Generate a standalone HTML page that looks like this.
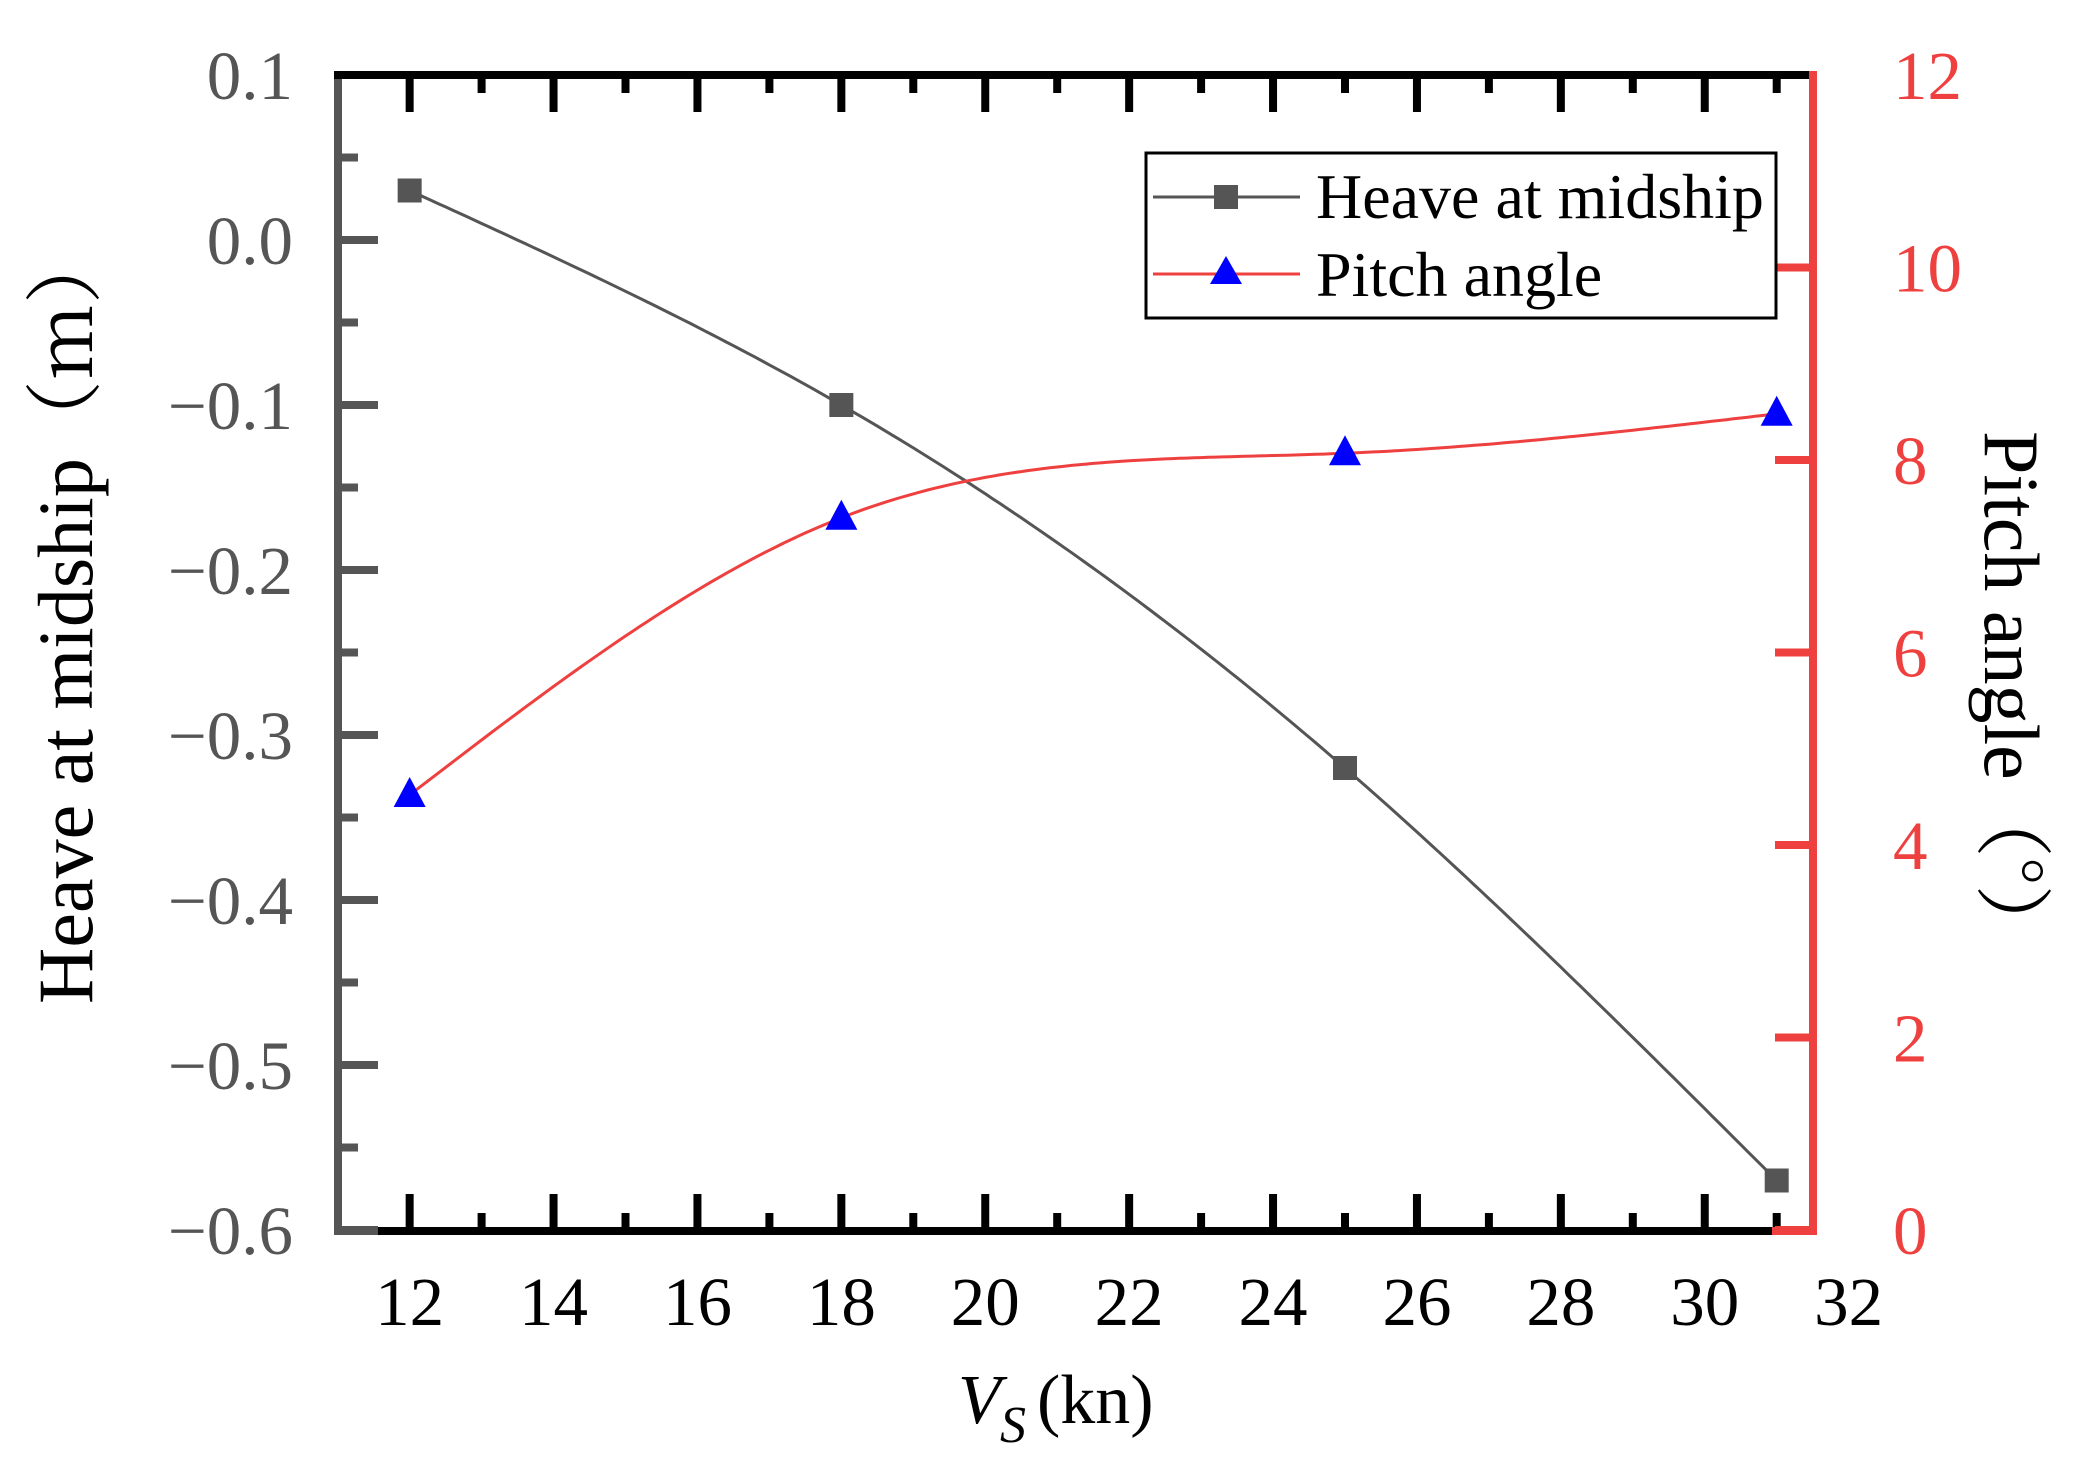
<!DOCTYPE html>
<html><head><meta charset="utf-8"><style>
html,body{margin:0;padding:0;background:#fff}
svg{display:block}
text{font-family:"Liberation Serif","Times New Roman",Times,serif}
.cjk{font-family:"Noto Serif CJK SC","Noto Sans CJK SC",serif}
</style></head><body>
<svg id="s" width="2079" height="1466" viewBox="0 0 2079 1466" xmlns="http://www.w3.org/2000/svg" font-family="Liberation Serif, Times New Roman, serif">
<g id="ticks"></g>
<path id="heave" fill="none" stroke="#555" stroke-width="3"/>
<path id="pitch" fill="none" stroke="#ef4040" stroke-width="3"/>
<g id="marks"></g>
<line x1="334" y1="75" x2="1813" y2="75" stroke="#000" stroke-width="8"/>
<line x1="334" y1="1231" x2="1813" y2="1231" stroke="#000" stroke-width="8"/>
<line x1="338" y1="79" x2="338" y2="1235" stroke="#555" stroke-width="8"/>
<line x1="1813" y1="71" x2="1813" y2="1235" stroke="#ef4040" stroke-width="8"/>
<line x1="1772" y1="1231" x2="1813" y2="1231" stroke="#ef4040" stroke-width="8"/>
<line x1="334" y1="1231" x2="378" y2="1231" stroke="#555" stroke-width="8"/>
<g id="labels"></g>
<rect x="1146" y="153" width="630" height="165" fill="#fff" stroke="#000" stroke-width="3"/>
<line x1="1153" y1="197" x2="1300" y2="197" stroke="#555" stroke-width="3"/>
<rect x="1214" y="185" width="24" height="24" fill="#555"/>
<line x1="1153" y1="274" x2="1300" y2="274" stroke="#ef4040" stroke-width="3"/>
<polygon points="1226,256 1242,284 1210,284" fill="#0000ff"/>
<text x="1316" y="218" font-size="64">Heave at midship</text>
<text x="1316" y="296" font-size="64">Pitch angle</text>
<text transform="translate(92,1004) rotate(-90)" font-size="78">Heave at midship<tspan class="cjk">（m）</tspan></text>
<text transform="translate(1985,431) rotate(90)" font-size="78">Pitch angle<tspan class="cjk">（°）</tspan></text>
<text x="958" y="1423" font-size="70" font-style="italic">V</text>
<text x="1000" y="1442" font-size="52" font-style="italic">S</text>
<text x="1037" y="1423" font-size="70">(kn)</text>
</svg>
<script>
const NS="http://www.w3.org/2000/svg";
const X=v=>337.7+(v-11)*71.95, YL=h=>240-h*1650, YR=p=>1230-p*96.25;
function el(p,t,a,txt){const e=document.createElementNS(NS,t);for(const k in a)e.setAttribute(k,a[k]);if(txt!==undefined)e.textContent=txt;document.getElementById(p).appendChild(e);}
for(let v=12;v<=31;v++){const maj=v%2==0,L=maj?37:18;const x=X(v);
 el("ticks","line",{x1:x,y1:75,x2:x,y2:75+L,stroke:"#000","stroke-width":8});
 el("ticks","line",{x1:x,y1:1231,x2:x,y2:1231-L,stroke:"#000","stroke-width":8});}
for(let v=12;v<=32;v+=2)el("labels","text",{x:X(v),y:1325,"font-size":69,"text-anchor":"middle"},String(v));
for(let i=0;i<=14;i++){const h=0.1-i*0.05;const y=YL(h);const maj=i%2==0;
 el("ticks","line",{x1:338,y1:y,x2:338+(maj?40:20),y2:y,stroke:"#555","stroke-width":8});
 if(maj){const s=Math.abs(h)<1e-9?"0.0":(h<0?"\u2212":"")+Math.abs(h).toFixed(1);
 el("labels","text",{x:293,y:y+24,"font-size":69,"text-anchor":"end",fill:"#555"},s);}}
for(let p=0;p<=12;p+=2){const y=YR(p);
 el("ticks","line",{x1:1813,y1:y,x2:1775,y2:y,stroke:"#ef4040","stroke-width":8});
 el("labels","text",{x:1893,y:y+24,"font-size":69,fill:"#ef4040"},String(p));}
function spline(xs,ys){const n=xs.length,h=[],a=[],l=[1],mu=[0],z=[0],c=new Array(n).fill(0),b=[],d=[];
 for(let i=0;i<n-1;i++)h.push(xs[i+1]-xs[i]);
 for(let i=1;i<n-1;i++)a[i]=3/h[i]*(ys[i+1]-ys[i])-3/h[i-1]*(ys[i]-ys[i-1]);
 for(let i=1;i<n-1;i++){l[i]=2*(xs[i+1]-xs[i-1])-h[i-1]*mu[i-1];mu[i]=h[i]/l[i];z[i]=(a[i]-h[i-1]*z[i-1])/l[i];}
 z[n-1]=0;for(let j=n-2;j>=0;j--){c[j]=z[j]-mu[j]*c[j+1];b[j]=(ys[j+1]-ys[j])/h[j]-h[j]*(c[j+1]+2*c[j])/3;d[j]=(c[j+1]-c[j])/(3*h[j]);}
 return t=>{let j=0;while(j<n-2&&t>xs[j+1])j++;const dx=t-xs[j];return ys[j]+b[j]*dx+c[j]*dx*dx+d[j]*dx*dx*dx;};}
const xs=[12,18,25,31],hv=[0.03,-0.10,-0.32,-0.57],pt=[4.52,7.4,8.07,8.48];
const fh=spline(xs,hv),fp=spline(xs,pt);let dh="",dp="";
for(let t=12;t<=31.0001;t+=0.1){dh+=(dh?"L":"M")+X(t).toFixed(1)+","+YL(fh(t)).toFixed(1);dp+=(dp?"L":"M")+X(t).toFixed(1)+","+YR(fp(t)).toFixed(1);}
document.getElementById("heave").setAttribute("d",dh);document.getElementById("pitch").setAttribute("d",dp);
xs.forEach((v,i)=>{const x=X(v);el("marks","rect",{x:x-12,y:YL(hv[i])-12,width:24,height:24,fill:"#555"});
 const y=YR(pt[i]);el("marks","polygon",{points:`${x},${y-18} ${x+16},${y+12} ${x-16},${y+12}`,fill:"#0000ff"});});
</script>
</body></html>
